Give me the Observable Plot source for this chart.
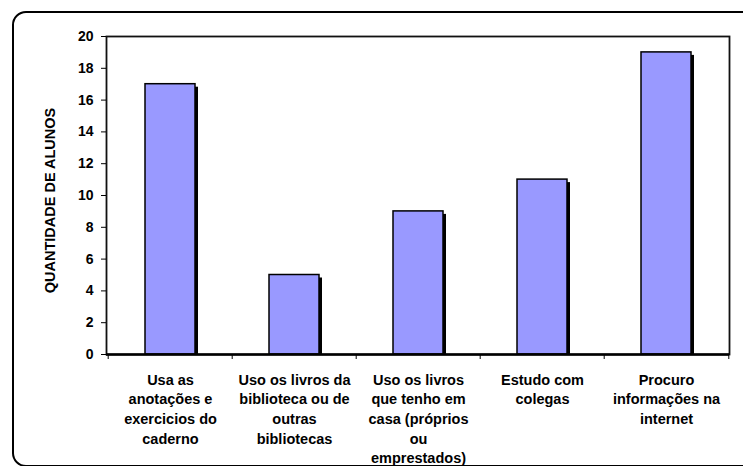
<!DOCTYPE html>
<html>
<head>
<meta charset="utf-8">
<script src="https://cdn.jsdelivr.net/npm/d3@7"></script>
<script src="https://cdn.jsdelivr.net/npm/@observablehq/plot@0.6"></script>
<style>
  html, body { margin: 0; padding: 0; background: #fff; }
  #wrap { position: relative; width: 743px; height: 466px; overflow: hidden; font-family: "Liberation Sans", Arial, sans-serif; }
  #box { position: absolute; left: 12px; top: 11px; width: 760px; height: 456px; border: 2.5px solid #000; border-radius: 14px; box-sizing: border-box; }
  #chart { position: absolute; left: 0; top: 0; }
  #chart svg { overflow: visible; }
</style>
</head>
<body>
<div id="wrap">
  <div id="box"></div>
  <div id="chart"></div>
</div>
<script>
// Como os alunos estudam: número de alunos por estratégia
const categories = [
  "Usa as anotações e exercicios do caderno",
  "Uso os livros da biblioteca ou de outras bibliotecas",
  "Uso os livros que tenho em casa (próprios ou emprestados)",
  "Estudo com colegas",
  "Procuro informações na internet"
];
const tickLabels = [
  "Usa as\nanotações e\nexercicios do\ncaderno",
  "Uso os livros da\nbiblioteca ou de\noutras\nbibliotecas",
  "Uso os livros\nque tenho em\ncasa (próprios\nou\nemprestados)",
  "Estudo com\ncolegas",
  "Procuro\ninformações na\ninternet"
];
const alunos = [17, 5, 9, 11, 19];
const yTicks = [0, 2, 4, 6, 8, 10, 12, 14, 16, 18, 20];
const yLabel = "QUANTIDADE DE ALUNOS";

const data = categories.map((c, i) => ({categoria: c, alunos: alunos[i]}));

const W = 743, H = 466, mL = 106, mR = 14, mT = 36, mB = 112;
const step = (W - mL - mR) / categories.length;

const chart = Plot.plot({
  width: W,
  height: H,
  marginLeft: mL,
  marginRight: mR,
  marginTop: mT,
  marginBottom: mB,
  style: {fontFamily: "'Liberation Sans', Arial, sans-serif", color: "#000", background: "transparent", overflow: "visible"},
  x: {type: "band", domain: categories, paddingInner: 0.6, paddingOuter: 0.3, axis: null},
  y: {domain: [0, 20], axis: null},
  marks: [
    // sombra das barras
    Plot.barY(data, {x: "categoria", y: "alunos", fill: "#000", dx: 3, dy: 3, clip: true}),
    Plot.barY(data, {x: "categoria", y: "alunos", fill: "#9999ff", stroke: "#000", strokeWidth: 1.5}),
    Plot.frame({stroke: "#111", strokeWidth: 1.8}),
    Plot.ruleY([0], {stroke: "#000", strokeWidth: 2.5}),
    Plot.axisY({ticks: yTicks, tickSize: 5, tickPadding: 8, fontSize: 14, fontWeight: "bold", label: null, tickFormat: d => String(d)}),
    // marcas de separação entre categorias
    Plot.ruleX(categories, {x: d => d, dx: -step / 2, y1: 0, y2: 0, insetBottom: -5, stroke: "#000", strokeWidth: 1}),
    Plot.ruleX([categories[categories.length - 1]], {x: d => d, dx: step / 2, y1: 0, y2: 0, insetBottom: -5, stroke: "#000", strokeWidth: 1}),
    Plot.text(categories, {x: d => d, text: (d, i) => tickLabels[i], frameAnchor: "bottom", lineAnchor: "top", dy: 16, fontSize: 14.5, fontWeight: "bold", lineHeight: 1.36}),
    Plot.text([yLabel], {frameAnchor: "left", textAnchor: "middle", dx: -56, dy: 5, rotate: -90, fontSize: 14.5, fontWeight: "bold"})
  ]
});
document.getElementById("chart").appendChild(chart);
</script>
</body>
</html>
